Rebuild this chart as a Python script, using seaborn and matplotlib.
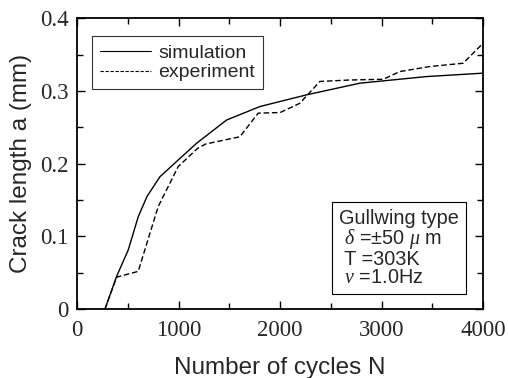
import numpy as np
import pandas as pd
import matplotlib
matplotlib.use("Agg")
import matplotlib.pyplot as plt
import seaborn as sns
from matplotlib.ticker import MultipleLocator
from matplotlib.lines import Line2D

sim_N = [273, 388, 503, 601, 688, 815, 995, 1176, 1472, 1800, 2260, 2785, 3442, 4000]
sim_a = [0.0, 0.045, 0.0815, 0.127, 0.155, 0.182, 0.205, 0.228, 0.260, 0.2785, 0.2946, 0.3106, 0.3197, 0.3244]

exp_N = [273, 388, 601, 798, 995, 1186, 1265, 1603, 1783, 2000, 2194, 2391, 2687, 3016, 3179, 3475, 3803, 4000]
exp_a = [0.0, 0.044, 0.052, 0.141, 0.196, 0.221, 0.227, 0.237, 0.2694, 0.2703, 0.283, 0.313, 0.315, 0.316, 0.3266, 0.3335, 0.338, 0.3656]

series_names = ["simulation", "experiment"]
x_ticks = [0, 1000, 2000, 3000, 4000]
y_ticks = [0, 0.1, 0.2, 0.3, 0.4]
y_tick_labels = ["0", "0.1", "0.2", "0.3", "0.4"]

df = pd.concat([
    pd.DataFrame({"N": sim_N, "a": sim_a, "series": series_names[0]}),
    pd.DataFrame({"N": exp_N, "a": exp_a, "series": series_names[1]}),
])

sns.set_style("ticks")
plt.rcParams["font.family"] = ["Liberation Sans", "DejaVu Sans"]
plt.rcParams["mathtext.fontset"] = "custom"
plt.rcParams["mathtext.it"] = "Liberation Serif:italic"
plt.rcParams["mathtext.rm"] = "Liberation Sans"

fig = plt.figure(figsize=(5.08, 3.78), dpi=100)
ax = fig.add_axes([0.152, 0.182, 0.799, 0.770])

sns.lineplot(data=df, x="N", y="a", hue="series", style="series",
             palette={"simulation": "black", "experiment": "black"},
             dashes={"simulation": "", "experiment": (4, 2)},
             linewidth=1.0, sort=False, estimator=None, ax=ax, legend=False)

ax.set_xlim(0, 4000)
ax.set_ylim(0, 0.4)
ax.set_xticks(x_ticks)
ax.set_xticklabels([str(t) for t in x_ticks], family="Liberation Serif", fontsize=16.5)
ax.set_yticks(y_ticks)
ax.set_yticklabels(y_tick_labels, family="Liberation Serif", fontsize=16.5)
ax.xaxis.set_minor_locator(MultipleLocator(500))
ax.yaxis.set_minor_locator(MultipleLocator(0.05))
ax.tick_params(which="both", direction="in", top=True, right=True, width=1.0, color="black")
ax.tick_params(which="major", length=6)
ax.tick_params(axis="x", which="major", pad=8)
ax.tick_params(axis="y", which="major", pad=6)
ax.tick_params(which="minor", length=4)
for s in ax.spines.values():
    s.set_linewidth(1.3)
    s.set_color("black")

ax.set_xlabel("Number of cycles N", fontsize=17.5, labelpad=11)
ax.set_ylabel("Crack length a (mm)", fontsize=17.5, labelpad=6)

handles = [Line2D([], [], color="black", lw=0.8, ls="-"),
           Line2D([], [], color="black", lw=0.8, ls=(0, (3, 1.5)))]
leg = ax.legend(handles, series_names, loc="upper left", bbox_to_anchor=(0.037, 0.937),
                fontsize=14, frameon=True, fancybox=False, edgecolor="black",
                handlelength=2.6, handletextpad=0.4, borderpad=0.4, labelspacing=0.1,
                borderaxespad=0)
leg.get_frame().set_linewidth(0.8)

ax.text(0.645, 0.345, "Gullwing type\n $\\delta$ =±50 $\\mu$ m\n T =303K\n $\\nu$ =1.0Hz",
        transform=ax.transAxes, fontsize=14.3, va="top", ha="left", linespacing=0.95,
        bbox=dict(boxstyle="square,pad=0.35", fc="white", ec="black", lw=0.8))

fig.savefig("out.png", dpi=100)
